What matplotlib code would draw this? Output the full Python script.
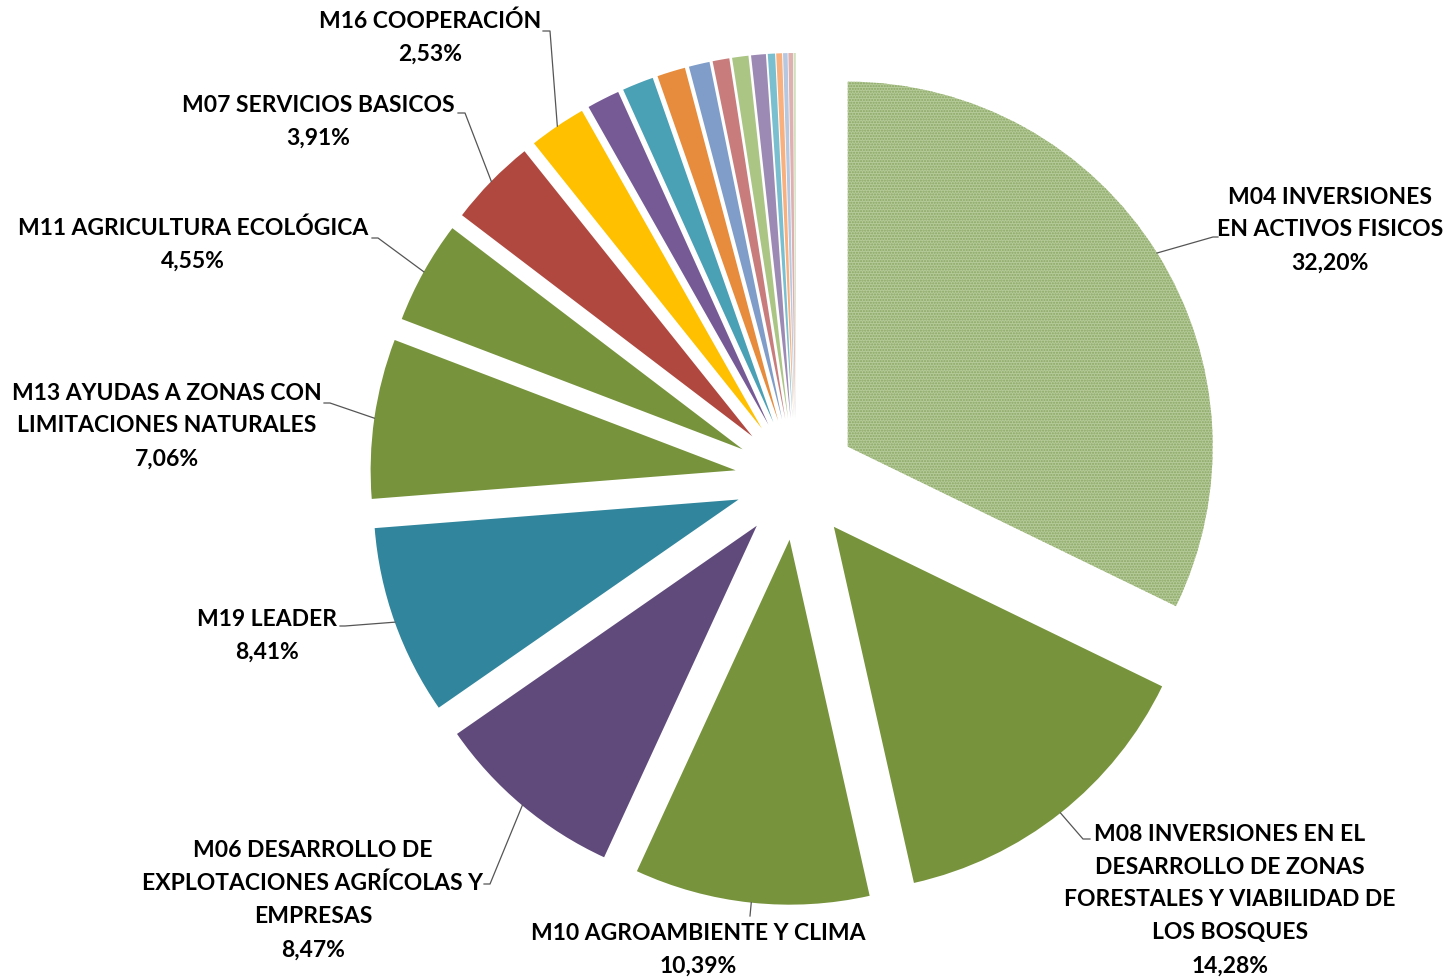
"""Distribución del gasto público por medida (pie chart with exploded wedges)."""

import matplotlib

matplotlib.use("Agg")
import matplotlib.pyplot as plt  # noqa: E402
import numpy as np  # noqa: E402

W, H = 1448, 980

LABELS = [
    "M04 INVERSIONES\nEN ACTIVOS FISICOS",
    "M08 INVERSIONES EN EL\nDESARROLLO DE ZONAS\nFORESTALES Y VIABILIDAD DE\nLOS BOSQUES",
    "M10 AGROAMBIENTE Y CLIMA",
    "M06 DESARROLLO DE\nEXPLOTACIONES AGRÍCOLAS Y\nEMPRESAS",
    "M19 LEADER",
    "M13 AYUDAS A ZONAS CON\nLIMITACIONES NATURALES",
    "M11 AGRICULTURA ECOLÓGICA",
    "M07 SERVICIOS BASICOS",
    "M16 COOPERACIÓN",
]
LABELED_VALUES = [32.20, 14.28, 10.39, 8.47, 8.41, 7.06, 4.55, 3.91, 2.53]
# remaining small measures (unlabelled in the original)
SMALL_VALUES = [1.45, 1.39, 1.25, 0.92, 0.74, 0.72, 0.65, 0.32, 0.26, 0.20, 0.20, 0.10]

COLORS = [
    "#b5ca99", "#77933c", "#77933c", "#604a7b", "#31859c", "#77933c",
    "#77933c", "#b0483f", "#ffc000",
    "#765a96", "#4aa0b5", "#e68c3c", "#7f9dc8", "#c97c7c", "#abc585",
    "#9c8ab4", "#79bfd0", "#f9b07f", "#b6c7e0", "#dfb0b0", "#d0e0bc",
]

# label layout in image pixels: text centre x, text centre y, elbow x, elbow y, stub end x
LABEL_LAYOUT = [
    (1330, 230, 1213, 237, 1218),
    (1230, 900, 1083, 839, 1090),
    (698, 950, 750, 916, 750),
    (313, 900, 490, 884, 484),
    (267, 636, 345, 626, 340),
    (167, 426, 330, 403, 324),
    (193, 245, 378, 238, 372),
    (318, 122, 465, 113, 458),
    (430, 38, 550, 31, 543),
]

CENTER = (796, H - 479)
RADIUS = 365
EXPLODE = 61  # matplotlib offsets wedges by this amount in data units


def pct(v: float) -> str:
    return f"{v:.2f}".replace(".", ",") + "%"


def main():
    values = LABELED_VALUES + SMALL_VALUES
    fig = plt.figure(figsize=(W / 100, H / 100), dpi=100)
    ax = fig.add_axes([0, 0, 1, 1])
    wedges, _ = ax.pie(
        values, colors=COLORS, startangle=90, counterclock=False,
        explode=[EXPLODE] * len(values), center=CENTER, radius=RADIUS,
        wedgeprops=dict(linewidth=0),
    )
    wedges[0].set_hatch("......")
    wedges[0].set_edgecolor("#8aa663")

    for w, label, v, (tx, ty, ex, ey, sx) in zip(wedges, LABELS, LABELED_VALUES, LABEL_LAYOUT):
        mid = np.deg2rad((w.theta1 + w.theta2) / 2)
        ax_ = w.center[0] + w.r * np.cos(mid)
        ay = w.center[1] + w.r * np.sin(mid)
        ax.plot([ax_, ex, sx], [ay, H - ey, H - ey], color="#555555", lw=0.9)
        ax.text(tx, H - ty, f"{label}\n{pct(v)}", ha="center", va="center",
                multialignment="center", fontsize=16.5, fontweight="bold",
                family=["Lato", "DejaVu Sans"], linespacing=1.7, color="black")

    ax.set_xlim(0, W)
    ax.set_ylim(0, H)
    ax.set_aspect("equal")
    ax.axis("off")
    fig.savefig("out.png", dpi=100)
    plt.close(fig)


if __name__ == "__main__":
    main()
